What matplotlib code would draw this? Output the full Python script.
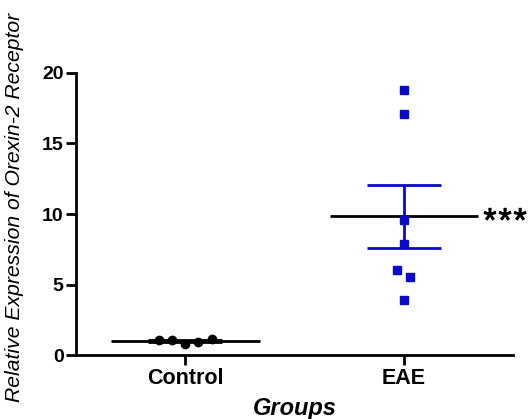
import numpy as np
import matplotlib
matplotlib.use("Agg")
import matplotlib.pyplot as plt
import matplotlib.patheffects as pe

plt.rcParams["font.family"] = ["Liberation Sans", "DejaVu Sans"]

# values
groups = ["Control", "EAE"]
control_vals = [1.10, 1.10, 0.75, 0.95, 1.15]
control_jitter = [-0.12, -0.06, 0.0, 0.06, 0.12]
eae_vals = [18.8, 17.1, 9.6, 7.9, 6.0, 5.5, 3.9]
eae_jitter = [0.0, 0.0, 0.0, 0.0, -0.03, 0.03, 0.0]

data = [control_vals, eae_vals]
jitters = [control_jitter, eae_jitter]
colors = ["black", "#0a0ac8"]
markers = ["o", "s"]

fig = plt.figure(figsize=(5.29, 4.19), dpi=100)
ax = fig.add_axes([0.1437, 0.1527, 0.970 - 0.1437, 0.8258 - 0.1527])

for i, vals in enumerate(data):
    vals = np.array(vals)
    mean = vals.mean()
    sem = vals.std(ddof=1) / np.sqrt(len(vals))

    ax.plot([i + j for j in jitters[i]], vals, linestyle="none",
            marker=markers[i], color=colors[i], markersize=6, zorder=3)

    # mean line
    ax.hlines(mean, i - 0.34, i + 0.34, color="black", lw=2, zorder=2)

    # sem bars
    ax.vlines(i, mean - sem, mean + sem, color=colors[i], lw=2, zorder=2)
    ax.hlines([mean - sem, mean + sem], i - 0.17, i + 0.17,
              color=colors[i], lw=2, zorder=2)

# significance stars, spaced out like the original
for k in range(3):
    ax.text(1.394 + 0.069 * k, np.mean(eae_vals) - 1.05, "*", ha="center",
            va="baseline", fontsize=24, clip_on=False,
            path_effects=[pe.withStroke(linewidth=0.7, foreground="black")])

ax.set_xlim(-0.5, 1.5)
ax.set_ylim(0, 20)
ax.set_xticks([0, 1])
ax.set_xticklabels(groups, fontsize=15.5, fontweight="bold")
ax.set_yticks([0, 5, 10, 15, 20])
ax.set_yticklabels(["0", "5", "10", "15", "20"], fontsize=14, fontweight="bold")

ax.set_xlabel("Groups", fontsize=17, fontweight="bold", style="italic", labelpad=6)
ax.set_ylabel("Relative Expression of Orexin-2 Receptor", fontsize=15.2,
              style="italic")
ax.yaxis.set_label_coords(-0.12, 0.525)

ax.spines["top"].set_visible(False)
ax.spines["right"].set_visible(False)
ax.spines["left"].set_linewidth(2)
ax.spines["bottom"].set_linewidth(2)
ax.tick_params(axis="both", direction="out", length=7, width=2, pad=2)

plt.savefig("out.png", dpi=100)
